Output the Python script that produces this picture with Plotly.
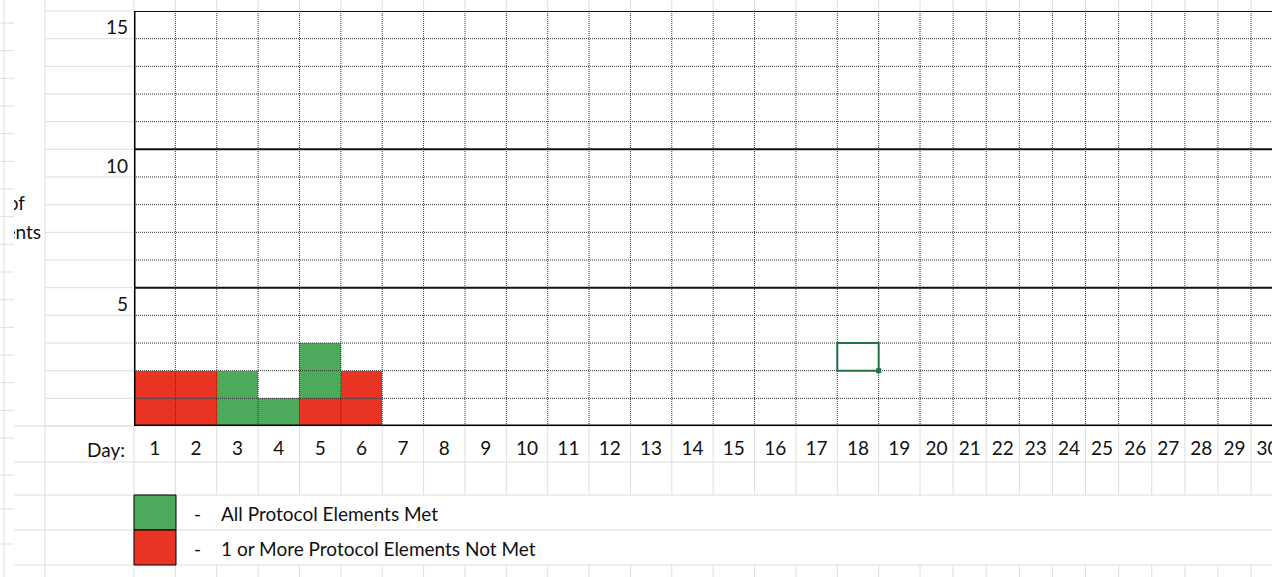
import plotly.graph_objects as go

# ---------------- data ----------------
days = list(range(1, 31))
not_met = [2, 2, 0, 0, 1, 2] + [0] * 24      # red: 1 or more protocol elements not met
all_met = [0, 0, 2, 1, 2, 0] + [0] * 24      # green: all protocol elements met
y_tick_vals = [15, 10, 5]
legend_labels = ["All Protocol Elements Met", "1 or More Protocol Elements Not Met"]
y_title_lines = ["Number of", "Protocol Elements"]
selected_day = 18
selected_level = 2

# ---------------- layout constants ----------------
W, H = 1281, 577
FONT = "Lato"
FS = 19
RED = "#E93323"
GREEN = "#4EAA5B"
LIGHT = "#DEDEDE"
DOT = "#333333"
CHART_L, CHART_R, CHART_T, CHART_B = 134, 1272, 11, 426
col_widths = [41.37] * 19 + [33.1] * 11

edges = [0.0]
for w in col_widths:
    edges.append(edges[-1] + w)
centers = [(edges[i] + edges[i + 1]) / 2 for i in range(len(days))]


def px(x):
    return x / W


def py(y):
    return 1 - y / H


fig = go.Figure()

fig.add_trace(go.Bar(x=centers, y=not_met, width=col_widths, marker=dict(color=RED, line=dict(width=0)),
                     name=legend_labels[1], showlegend=False, hoverinfo="skip"))
fig.add_trace(go.Bar(x=centers, y=all_met, width=col_widths, marker=dict(color=GREEN, line=dict(width=0)),
                     name=legend_labels[0], showlegend=False, hoverinfo="skip"))

# day labels row (own subplot so the last label is clipped like the sheet)
fig.add_trace(go.Scatter(x=centers, y=[0.33] * len(days), text=[str(d) for d in days], mode="text",
                         textposition="middle center", textfont=dict(family=FONT, size=FS, color="#111"),
                         cliponaxis=True, xaxis="x2", yaxis="y2", showlegend=False, hoverinfo="skip"))

# clipped y-axis title (the sheet cuts it off at the pane edge)
fig.add_trace(go.Scatter(x=[25, 41], y=[205, 234], text=y_title_lines, mode="text",
                         textposition="middle left", textfont=dict(family=FONT, size=FS, color="#111"),
                         cliponaxis=True, xaxis="x3", yaxis="y3", showlegend=False, hoverinfo="skip"))

shapes = []


def line(x0, y0, x1, y1, color, width=1, dash="solid", xref="paper", yref="paper", layer="above"):
    shapes.append(dict(type="line", x0=x0, y0=y0, x1=x1, y1=y1, xref=xref, yref=yref, layer=layer,
                       line=dict(color=color, width=width, dash=dash)))


# ---- spreadsheet background gridlines (paper coords) ----
for xv in (4, 45, 134):
    line(px(xv), py(0), px(xv), py(H), LIGHT, layer="below")
for e in edges[1:]:
    xx = CHART_L + e
    if xx > CHART_R:
        continue
    for (a, b) in ((0, CHART_T), (CHART_B, 495), (565, H)):
        line(px(xx), py(a), px(xx), py(b), LIGHT, layer="below")
row_h = (CHART_B - CHART_T) / 15
for k in range(16):
    yy = CHART_T + k * row_h
    line(px(45), py(yy), px(CHART_L), py(yy), LIGHT, layer="below")
for yy in (CHART_B, 462, 495, 530, 565):
    line(px(14), py(yy), px(CHART_R), py(yy), LIGHT, layer="below")
for k in range(16):
    yy = 23 + k * row_h
    line(px(0), py(yy), px(14), py(yy), LIGHT, layer="below")
for yy in (475, 509, 544):
    line(px(0), py(yy), px(14), py(yy), LIGHT, layer="below")

# ---- dotted cell borders in the chart ----
for e in edges[1:]:
    line(e, 0, e, 15, DOT, 1, "1px,1px", "x", "y")
for v in range(1, 15):
    if v % 5:
        line(0, v, edges[-1], v, DOT, 1, "1px,1px", "x", "y")
for v in (5, 10, 15):
    line(0, v, edges[-1], v, "#111", 2, "solid", "x", "y")
line(0, 0, edges[-1], 0, "#000", 3, "solid", "x", "y")
line(0, 0, 0, 15, "#000", 3, "solid", "x", "y")

# ---- selected cell ----
i = selected_day - 1
shapes.append(dict(type="rect", xref="x", yref="y", x0=edges[i], x1=edges[i + 1], y0=selected_level,
                   y1=selected_level + 1, line=dict(color="#217346", width=2), layer="above"))
shapes.append(dict(type="rect", xref="x", yref="y", x0=edges[i + 1] - 2.5, x1=edges[i + 1] + 2.5,
                   y0=selected_level - 0.09, y1=selected_level + 0.09, fillcolor="#217346",
                   line=dict(width=0), layer="above"))

# ---- legend swatches ----
shapes.append(dict(type="rect", xref="paper", yref="paper", x0=px(134), x1=px(176), y0=py(530), y1=py(495),
                   fillcolor=GREEN, line=dict(color="#000", width=1), layer="above"))
shapes.append(dict(type="rect", xref="paper", yref="paper", x0=px(134), x1=px(176), y0=py(565), y1=py(530),
                   fillcolor=RED, line=dict(color="#000", width=1), layer="above"))

annotations = []
for v in y_tick_vals:
    annotations.append(dict(x=px(130), y=v - 0.5, xref="paper", yref="y", text=str(v), showarrow=False,
                            xanchor="right", yanchor="middle", yshift=-2,
                            font=dict(family=FONT, size=FS, color="#111")))
annotations.append(dict(x=px(127), y=py(449), xref="paper", yref="paper", text="Day:", showarrow=False,
                        xanchor="right", yanchor="middle", font=dict(family=FONT, size=FS, color="#111")))
for yy, txt in zip((513, 548), legend_labels):
    annotations.append(dict(x=px(197), y=py(yy), xref="paper", yref="paper", text="-", showarrow=False,
                            xanchor="center", yanchor="middle", font=dict(family=FONT, size=FS, color="#111")))
    annotations.append(dict(x=px(219), y=py(yy), xref="paper", yref="paper", text=txt, showarrow=False,
                            xanchor="left", yanchor="middle", font=dict(family=FONT, size=FS, color="#111")))

ax_hidden = dict(visible=False, showgrid=False, zeroline=False, fixedrange=True)
fig.update_layout(
    width=W, height=H, margin=dict(l=0, r=0, t=0, b=0),
    paper_bgcolor="white", plot_bgcolor="rgba(0,0,0,0)",
    barmode="stack", bargap=0, showlegend=False,
    xaxis=dict(ax_hidden, domain=[px(CHART_L), px(CHART_R)], range=[0, CHART_R - CHART_L]),
    yaxis=dict(ax_hidden, domain=[py(CHART_B), py(CHART_T)], range=[0, 15]),
    xaxis2=dict(ax_hidden, domain=[px(CHART_L), px(CHART_R)], range=[0, CHART_R - CHART_L], anchor="y2"),
    yaxis2=dict(ax_hidden, domain=[py(462), py(CHART_B)], range=[0, 1], anchor="x2"),
    xaxis3=dict(ax_hidden, domain=[px(14), px(CHART_L)], range=[14, CHART_L], anchor="y3"),
    yaxis3=dict(ax_hidden, domain=[py(CHART_B), py(CHART_T)], range=[CHART_B, CHART_T], anchor="x3"),
    shapes=shapes, annotations=annotations,
)

fig.write_html("out.html", config=dict(displayModeBar=False))
